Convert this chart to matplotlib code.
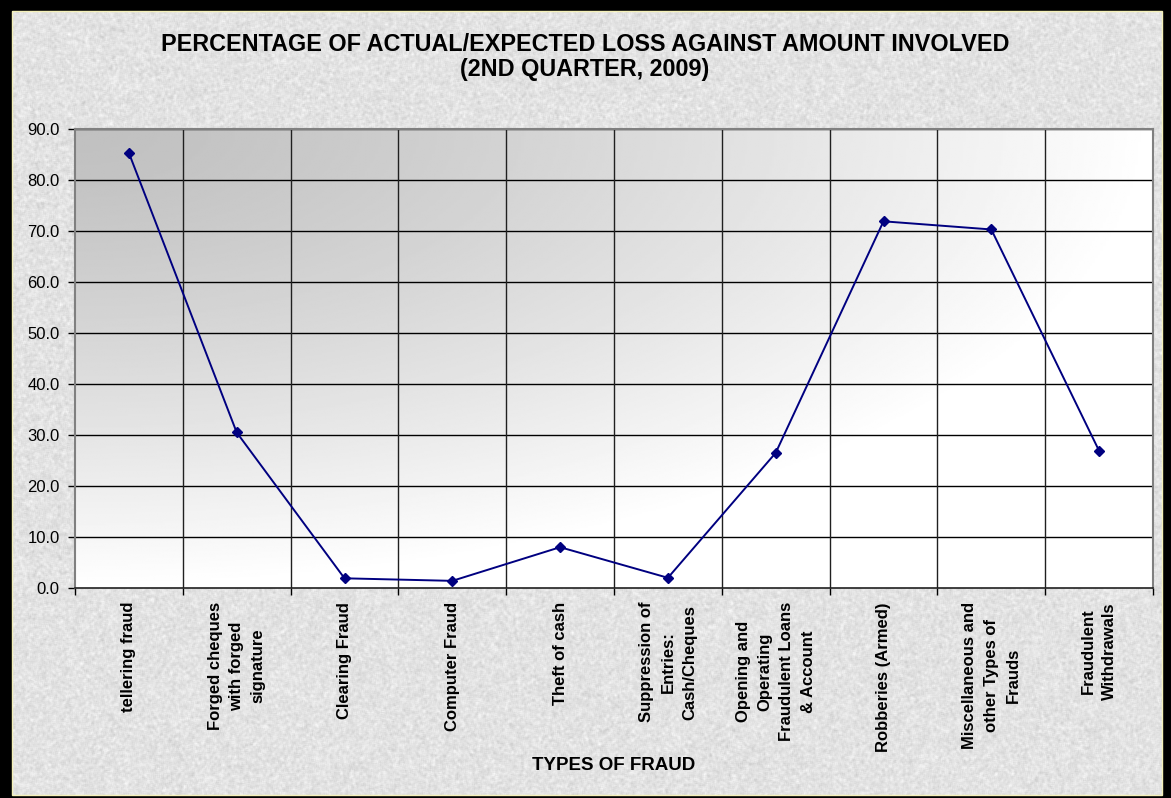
import numpy as np
import matplotlib
matplotlib.use("Agg")
import matplotlib.pyplot as plt
from matplotlib.patches import Rectangle
from matplotlib.transforms import blended_transform_factory

plt.rcParams['font.family'] = ['Liberation Sans', 'DejaVu Sans']

# Fraud categories and loss percentages
categories = [
    "tellering fraud",
    "Forged cheques\nwith forged\nsignature",
    "Clearing Fraud",
    "Computer Fraud",
    "Theft of cash",
    "Suppression of\nEntries:\nCash/Cheques",
    "Opening and\nOperating\nFraudulent Loans\n& Account",
    "Robberies (Armed)",
    "Miscellaneous and\nother Types of\nFrauds",
    "Fraudulent\nWithdrawals",
]
loss_pct = [85.3, 30.5, 1.9, 1.4, 8.0, 2.0, 26.5, 71.9, 70.3, 26.9]
y_ticks = [0, 10, 20, 30, 40, 50, 60, 70, 80, 90]

W, H, DPI = 1171, 798, 100
fig = plt.figure(figsize=(W / DPI, H / DPI), dpi=DPI)
fig.patch.set_facecolor('black')

# Stone-textured panel inside the black frame
rng = np.random.default_rng(7)
tex = rng.normal(0, 1, (H, W))
k = np.ones(3) / 3
tex = np.apply_along_axis(lambda r: np.convolve(r, k, mode='same'), 1, tex)
tex = np.apply_along_axis(lambda c: np.convolve(c, k, mode='same'), 0, tex)
tex = np.clip(226 + 16 * tex, 185, 250) / 255.0
frame_l, frame_t, frame_r, frame_b = 12, 11, 1162, 795
bg_ax = fig.add_axes([frame_l / W, 1 - frame_b / H, (frame_r - frame_l) / W,
                      (frame_b - frame_t) / H], zorder=0)
bg_ax.imshow(tex[frame_t:frame_b, frame_l:frame_r], cmap='gray', vmin=0, vmax=1,
             aspect='auto', interpolation='nearest')
bg_ax.set_axis_off()
fig.patches.append(Rectangle((frame_l / W, 1 - frame_b / H), (frame_r - frame_l) / W,
                             (frame_b - frame_t) / H, transform=fig.transFigure,
                             fill=False, edgecolor='#f4f0b8', linewidth=1.0, zorder=1))

# Plot area
left, top, right, bottom = 75, 129, 1153, 588
ax = fig.add_axes([left / W, 1 - bottom / H, (right - left) / W, (bottom - top) / H], zorder=2)

n = len(categories)
ax.set_xlim(0, n)
ax.set_ylim(0, 90)

# Diagonal grey-to-white gradient fill
gx, gy = np.meshgrid(np.linspace(0, 1, 400), np.linspace(1, 0, 300))
t = np.clip(np.sqrt(gx ** 2 + (1 - gy) ** 2), 0, 1) ** 1.3
shade = (192 + 63 * t) / 255.0
ax.imshow(shade, cmap='gray', vmin=0, vmax=1, extent=[0, n, 0, 90],
          aspect='auto', zorder=0, interpolation='bilinear')

# Grid lines
for yv in y_ticks[1:]:
    ax.axhline(yv, color='black', linewidth=1.0, zorder=1)
for xv in range(1, n):
    ax.axvline(xv, color='#202020', linewidth=1.0, zorder=1)

x = np.arange(n) + 0.5
ax.plot(x, loss_pct, color='#000080', linewidth=1.4, marker='D', markersize=5.5,
        markerfacecolor='#000080', markeredgecolor='#000080', zorder=3)

for side in ['left', 'right', 'top']:
    ax.spines[side].set_color('#808080')
    ax.spines[side].set_linewidth(1.5)
ax.spines['bottom'].set_color('#202020')
ax.spines['bottom'].set_linewidth(1.2)

ax.set_yticks(y_ticks)
ax.set_yticklabels([f"{v:.1f}" for v in y_ticks], fontsize=12)
ax.tick_params(axis='y', length=5, width=1, pad=6, colors='black')

ax.set_xticks(np.arange(n + 1))
ax.set_xticklabels([])
ax.tick_params(axis='x', which='major', length=5, width=1)

# Category names, rotated and hung just below the axis
label_tr = blended_transform_factory(ax.transData, ax.transAxes)
label_y = -(602 - bottom) / (bottom - top)
for xi, name in zip(x, categories):
    ax.text(xi, label_y, name, transform=label_tr, rotation=90, ha='center',
            va='top', multialignment='center', linespacing=1.55, fontsize=12,
            fontweight='bold', clip_on=False)

fig.text(0.5 * (left + right) / W, 1 - 766 / H, "TYPES OF FRAUD", ha='center',
         va='center', fontsize=13.5, fontweight='bold')

fig.text(585 / W, 1 - 57 / H,
         "PERCENTAGE OF ACTUAL/EXPECTED LOSS AGAINST AMOUNT INVOLVED\n(2ND QUARTER, 2009)",
         ha='center', va='center', fontsize=16.8, fontweight='bold', linespacing=1.08)

fig.savefig("out.png", dpi=DPI, facecolor=fig.get_facecolor())
